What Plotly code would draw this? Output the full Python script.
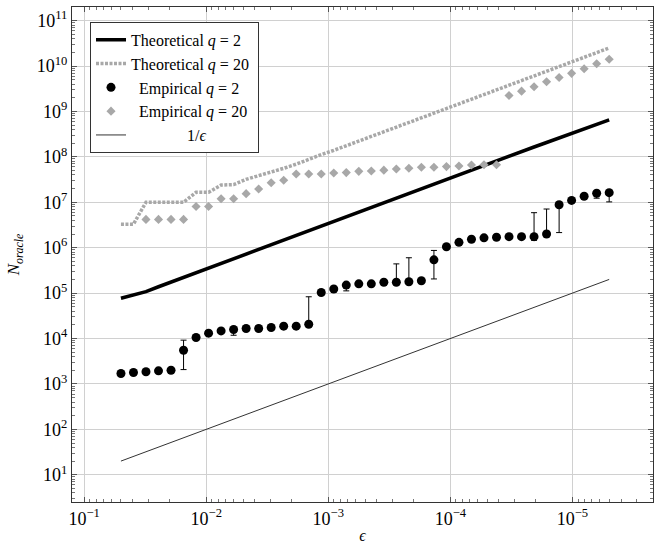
import plotly.graph_objects as go

# epsilon values (x axis, reversed log scale)
eps = [0.05, 0.03948, 0.03118, 0.02462, 0.01944, 0.01535, 0.01212, 0.009573,
       0.007559, 0.005969, 0.004714, 0.003722, 0.002939, 0.002321, 0.001833,
       0.001447, 0.001143, 9.025e-4, 7.126e-4, 5.627e-4, 4.444e-4, 3.509e-4,
       2.771e-4, 2.188e-4, 1.728e-4, 1.364e-4, 1.077e-4, 8.507e-5, 6.718e-5,
       5.305e-5, 4.189e-5, 3.308e-5, 2.612e-5, 2.063e-5, 1.629e-5, 1.286e-5,
       1.016e-5, 8.020e-6, 6.333e-6, 5.0e-6]

theo_q2 = [7.7e4, 9.2e4, 1.08e5, 1.38e5, 1.75e5, 2.21e5, 2.81e5, 3.55e5, 4.50e5,
           5.70e5, 7.21e5, 9.13e5, 1.157e6, 1.465e6, 1.855e6, 2.35e6, 2.97e6,
           3.77e6, 4.77e6, 6.04e6, 7.65e6, 9.69e6, 1.227e7, 1.554e7, 1.968e7,
           2.49e7, 3.16e7, 4.00e7, 5.06e7, 6.41e7, 8.12e7, 1.028e8, 1.30e8,
           1.65e8, 2.07e8, 2.6e8, 3.28e8, 4.12e8, 5.18e8, 6.5e8]

theo_q20 = [3.3e6, 3.3e6, 1.0e7, 1.0e7, 1.0e7, 1.0e7, 1.66e7, 1.66e7, 2.4e7,
            2.45e7, 3.2e7, 3.8e7, 4.6e7, 5.6e7, 6.9e7, 8.9e7, 1.12e8, 1.39e8,
            1.75e8, 2.22e8, 2.81e8, 3.56e8, 4.51e8, 5.71e8, 7.23e8, 9.16e8,
            1.16e9, 1.47e9, 1.86e9, 2.36e9, 2.98e9, 3.78e9, 4.79e9, 6.06e9,
            7.67e9, 9.72e9, 1.23e10, 1.56e10, 1.97e10, 2.5e10]

emp_q2 = [1700, 1780, 1850, 1940, 2000, 5500, 10500, 13100, 14700, 15800,
          16600, 16600, 17500, 18700, 18700, 20600, 103000, 123000, 150000,
          160000, 160000, 173000, 173000, 178000, 187000, 540000, 1050000,
          1310000, 1530000, 1650000, 1700000, 1750000, 1750000, 1750000,
          2000000, 8800000, 11000000, 13600000, 15800000, 16300000]

# upper / lower ends of the error bars (None = no bar on that side)
emp_q2_hi = [None, None, None, None, None, 9200, None, None, None, None,
             None, None, None, None, None, 83000, None, None, None, None,
             None, None, 440000, 600000, None, 870000, None, None, None, None,
             None, None, None, 5.9e6, 7.1e6, None, None, None, None, 1.8e7]
emp_q2_lo = [None, None, None, None, None, 2070, None, None, None, 11800,
             None, None, 16000, None, None, None, None, None, 112000, None,
             152000, None, None, None, None, 205000, None, None, None, None,
             1.6e6, None, None, 1.45e6, None, 2.15e6, None, None, 1.23e7, 1.02e7]

emp_q20 = [None, None, 4.2e6, 4.2e6, 4.2e6, 4.2e6, 8.1e6, 8.1e6, 1.2e7, 1.2e7,
           1.55e7, 1.96e7, 2.7e7, 3.05e7, 4.2e7, 4.2e7, 4.2e7, 4.4e7, 4.5e7,
           4.8e7, 4.9e7, 5.1e7, 5.4e7, 5.6e7, 5.9e7, 5.9e7, 6.1e7, 6.3e7,
           6.6e7, 6.7e7, 6.7e7, 2.24e9, 2.8e9, 3.5e9, 4.5e9, 5.6e9, 6.9e9,
           8.7e9, 1.12e10, 1.41e10]

inv_eps_x = [0.05, 5.0e-6]
inv_eps_y = [20, 2.0e5]

x_tickvals = [1e-1, 1e-2, 1e-3, 1e-4, 1e-5]
x_ticktext = ["10<sup>−1</sup>", "10<sup>−2</sup>", "10<sup>−3</sup>",
              "10<sup>−4</sup>", "10<sup>−5</sup>"]
y_tickvals = [1e1, 1e2, 1e3, 1e4, 1e5, 1e6, 1e7, 1e8, 1e9, 1e10, 1e11]
y_ticktext = ["10<sup>%d</sup>" % i for i in range(1, 12)]

err_plus = [(h - v) if h is not None else 0 for h, v in zip(emp_q2_hi, emp_q2)]
err_minus = [(v - l) if l is not None else 0 for l, v in zip(emp_q2_lo, emp_q2)]

GRAY = "#a8a8a8"
FONT = "Liberation Serif"

fig = go.Figure()
fig.add_trace(go.Scatter(
    x=eps, y=theo_q2, mode="lines", name="Theoretical <i>q</i> = 2 ",
    line=dict(color="black", width=3.5)))
fig.add_trace(go.Scatter(
    x=eps, y=theo_q20, mode="lines", name="Theoretical <i>q</i> = 20 ",
    line=dict(color=GRAY, width=3.5, dash="3px,1.5px")))
fig.add_trace(go.Scatter(
    x=eps, y=emp_q2, mode="markers", name="  Empirical <i>q</i> = 2",
    marker=dict(color="black", size=9, symbol="circle"),
    error_y=dict(type="data", symmetric=False, array=err_plus,
                 arrayminus=err_minus, color="black", thickness=1, width=3)))
fig.add_trace(go.Scatter(
    x=eps, y=emp_q20, mode="markers", name="  Empirical <i>q</i> = 20",
    marker=dict(color=GRAY, size=7, symbol="diamond")))
fig.add_trace(go.Scatter(
    x=inv_eps_x, y=inv_eps_y, mode="lines", name="              1/<i>ϵ</i>",
    line=dict(color="#333333", width=1)))

axis_common = dict(
    type="log", showgrid=True, gridcolor="#d0d0d0", gridwidth=1,
    ticks="inside", ticklen=5, tickcolor="#555555", tickwidth=1,
    mirror="allticks", showline=True, linecolor="#333333", linewidth=1,
    zeroline=False, automargin=False,
    minor=dict(ticks="inside", ticklen=3, tickcolor="#777777", dtick="D1",
               showgrid=False),
    tickfont=dict(family=FONT, size=18, color="black"),
)

fig.update_layout(
    width=655, height=545,
    margin=dict(l=72, r=2, t=7, b=43),
    plot_bgcolor="white", paper_bgcolor="white",
    font=dict(family=FONT, size=16, color="black"),
    xaxis=dict(axis_common, range=[-0.9, -5.66], tickvals=x_tickvals,
               ticktext=x_ticktext,
               title=dict(text="<i>ϵ</i>", standoff=2,
                          font=dict(family=FONT, size=16))),
    yaxis=dict(axis_common, range=[0.4, 11.3], tickvals=y_tickvals,
               ticktext=y_ticktext,
               title=dict(text="<i>N</i><sub><i>oracle</i></sub>", standoff=12,
                          font=dict(family=FONT, size=17))),
    legend=dict(x=0.031, y=0.97, xanchor="left", yanchor="top",
                bgcolor="white", bordercolor="#333333", borderwidth=1,
                font=dict(family=FONT, size=16, color="black"),
                tracegroupgap=0, itemwidth=30),
    showlegend=True,
)

fig.write_html(
    "out.html",
    config={"displayModeBar": False},
    post_script="document.body.style.margin='0';document.body.style.overflow='hidden';",
)
